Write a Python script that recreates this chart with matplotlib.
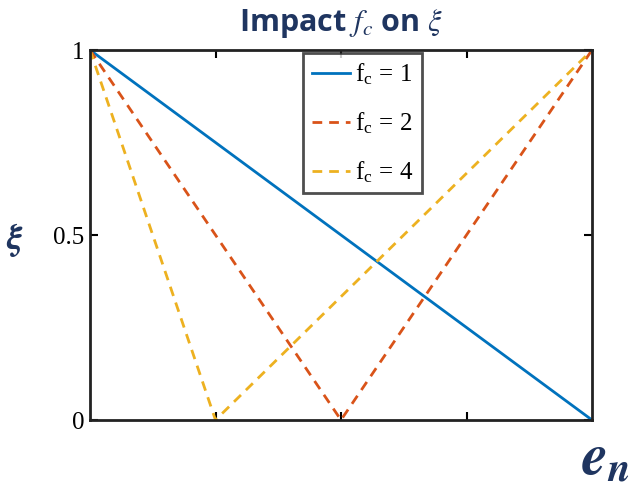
import matplotlib.pyplot as plt

# series values (piecewise linear)
x_fc1 = [0, 1]
y_fc1 = [1, 0]
x_fc2 = [0, 0.5, 1]
y_fc2 = [1, 0, 1]
x_fc4 = [0, 0.25, 1]
y_fc4 = [1, 0, 1]

labels = ['f$_\\mathregular{c}$ = 1', 'f$_\\mathregular{c}$ = 2', 'f$_\\mathregular{c}$ = 4']
yticks = [0, 0.5, 1]
yticklabels = ['0', '0.5', '1']

navy = '#1F3560'
plt.rcParams['mathtext.fontset'] = 'stix'

fig = plt.figure(figsize=(6.4, 4.9), dpi=100)
ax = fig.add_axes([90 / 640, 70 / 490, 502 / 640, 370 / 490])

ax.plot(x_fc1, y_fc1, color='#0072BD', lw=2, label=labels[0])
ax.plot(x_fc2, y_fc2, color='#D95319', lw=2, ls=(0, (3.5, 2.5)), label=labels[1])
ax.plot(x_fc4, y_fc4, color='#EDB120', lw=2, ls=(0, (3.5, 2.5)), label=labels[2])

ax.set_xlim(0, 1)
ax.set_ylim(0, 1)
ax.set_xticks([0.25, 0.5, 0.75])
ax.set_xticklabels([])
ax.set_yticks(yticks)
ax.set_yticklabels(yticklabels, family='Liberation Serif', fontsize=18)
ax.tick_params(direction='in', top=True, right=True, length=6, width=1.5, pad=4)
for s in ax.spines.values():
    s.set_linewidth(2)
    s.set_color('#222222')

leg = ax.legend(loc='upper left', bbox_to_anchor=(0.42, 1.0), frameon=True, fancybox=False,
                prop={'family': 'Liberation Serif', 'size': 18}, handlelength=1.5,
                borderpad=0.35, labelspacing=0.95, handletextpad=0.2, borderaxespad=0.1)
leg.get_frame().set_edgecolor('#222222')
leg.get_frame().set_linewidth(2)

ax.set_title('Impact $f_c$ on $\\xi$', fontsize=22, fontweight='bold', color=navy,
             family='Open Sans', pad=14)
fig.text(15 / 640, 1 - 240 / 490, '$\\boldsymbol{\\xi}$', fontsize=26, color=navy,
         ha='center', va='center')
fig.text(606 / 640, 1 - 458 / 490, '$\\mathbfit{e}_\\mathbfit{n}$', fontsize=42, color=navy,
         ha='center', va='center')

fig.savefig('out.png', dpi=100)
